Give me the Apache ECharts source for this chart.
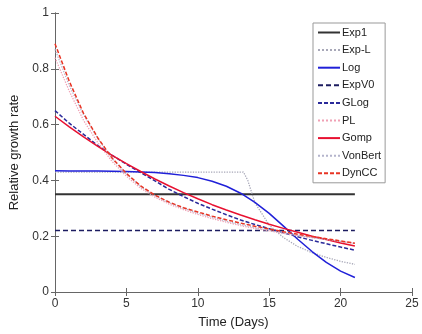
<!DOCTYPE html>
<html>
<head>
<meta charset="utf-8">
<script src="https://cdn.jsdelivr.net/npm/echarts@6/dist/echarts.min.js"></script>
<style>html,body{margin:0;padding:0;background:#fff}#c{width:422px;height:334px}</style>
</head>
<body>
<div id="c"></div>
<script>
// ---- data ----
const days = [0,1,2,3,4,5,6,7,8,9,10,11,12,13,14,15,16,17,18,19,20,21];
const flatDays = [0, 21];
const exp1 = [0.35, 0.35];
const expV0 = [0.22, 0.22];
const expLDays = [0, 13.2, 13.5, 14, 14.5, 15, 16, 17, 18, 19, 20, 21];
const expL = [0.43, 0.43, 0.40, 0.32, 0.28, 0.24, 0.195, 0.163, 0.141, 0.124, 0.110, 0.099];
const logV = [0.435,0.434,0.434,0.434,0.433,0.432,0.430,0.428,0.424,0.418,0.410,0.397,0.379,0.354,0.321,0.282,0.236,0.189,0.145,0.106,0.075,0.052];
const glog = [0.65,0.605,0.565,0.525,0.49,0.458,0.428,0.398,0.368,0.342,0.318,0.297,0.277,0.258,0.242,0.227,0.212,0.198,0.185,0.173,0.161,0.15];
const pl = [0.84,0.72,0.615,0.535,0.468,0.415,0.372,0.34,0.315,0.295,0.278,0.263,0.25,0.238,0.228,0.219,0.21,0.202,0.195,0.188,0.181,0.175];
const gomp = [0.63,0.592,0.556,0.522,0.49,0.46,0.432,0.405,0.38,0.356,0.334,0.313,0.294,0.276,0.259,0.243,0.228,0.214,0.2,0.188,0.176,0.165];
const vonBert = [0.87,0.74,0.635,0.55,0.478,0.423,0.378,0.345,0.32,0.3,0.283,0.268,0.254,0.242,0.231,0.221,0.212,0.203,0.195,0.188,0.181,0.174];
const dynCC = [0.89,0.755,0.64,0.552,0.48,0.425,0.38,0.347,0.322,0.302,0.287,0.272,0.259,0.247,0.236,0.226,0.216,0.207,0.199,0.191,0.183,0.175];
const xTicks = [0, 5, 10, 15, 20, 25];
const yTicks = [0, 0.2, 0.4, 0.6, 0.8, 1];

function pairs(xs, ys){ return xs.map((x,i)=>[x, ys[i]]); }

const seriesDefs = [
  {name:'Exp1', x:flatDays, y:exp1, color:'#333333', type:'solid', width:2},
  {name:'Exp-L', x:expLDays, y:expL, color:'#a8a8b8', type:'dotted', width:1.3},
  {name:'Log', x:days, y:logV, color:'#2020d8', type:'solid', width:1.5},
  {name:'ExpV0', x:flatDays, y:expV0, color:'#1c1c60', type:[5,3], width:1.5},
  {name:'GLog', x:days, y:glog, color:'#2a2a9a', type:[4,2], width:1.5},
  {name:'PL', x:days, y:pl, color:'#f0a0b4', type:'dotted', width:1.3},
  {name:'Gomp', x:days, y:gomp, color:'#e81030', type:'solid', width:1.5},
  {name:'VonBert', x:days, y:vonBert, color:'#b4b4cc', type:'dotted', width:1.3},
  {name:'DynCC', x:days, y:dynCC, color:'#e83424', type:[4,2], width:1.5}
];

const chart = echarts.init(document.getElementById('c'), null, {renderer:'canvas'});
const axisCommon = {
  axisLine:{show:true, lineStyle:{color:'#666', width:1}},
  axisTick:{show:true, inside:true, length:4, lineStyle:{color:'#666'}},
  splitLine:{show:false}
};
chart.setOption({
  animation:false,
  backgroundColor:'#fff',
  grid:{left:55, right:10, top:13, bottom:42},
  legend:{
    orient:'vertical', left:313, top:23,
    data: seriesDefs.map(s=>s.name),
    backgroundColor:'#fff', borderColor:'#999', borderWidth:1,
    padding:[4,4,4,4], itemWidth:22, itemHeight:10, itemGap:6.6,
    itemStyle:{opacity:0},
    textStyle:{fontFamily:'Liberation Sans, Arial', fontSize:11, color:'#222', padding:[0,0,0,-3]}
  },
  xAxis:[
    Object.assign({type:'value', min:0, max:25, interval:5, position:'bottom',
      name:'Time (Days)', nameLocation:'middle', nameGap:24,
      nameTextStyle:{fontFamily:'Liberation Sans, Arial', fontSize:13, color:'#222'},
      axisLabel:{fontFamily:'Liberation Sans, Arial', fontSize:12, color:'#333', margin:6,
        formatter:v=>xTicks.includes(v)?String(v):''}}, axisCommon),
    Object.assign({type:'value', min:0, max:25, interval:5, position:'top', axisLabel:{show:false}}, axisCommon)
  ],
  yAxis:[
    Object.assign({type:'value', min:0, max:1, interval:0.2, position:'left',
      name:'Relative growth rate', nameLocation:'middle', nameGap:30, nameRotate:90,
      nameTextStyle:{fontFamily:'Liberation Sans, Arial', fontSize:13, color:'#222'},
      axisLabel:{fontFamily:'Liberation Sans, Arial', fontSize:12, color:'#333', margin:6,
        formatter:v=>{const t=yTicks.find(k=>Math.abs(k-v)<1e-9); return t===undefined?'':String(t);}}}, axisCommon),
    Object.assign({type:'value', min:0, max:1, interval:0.2, position:'right', axisLabel:{show:false}}, axisCommon)
  ],
  series: seriesDefs.map(s=>({
    name:s.name, type:'line', data:pairs(s.x, s.y), symbol:'none', smooth:false,
    xAxisIndex:0, yAxisIndex:0,
    itemStyle:{color:s.color},
    lineStyle:{color:s.color, type:s.type, width:s.width}
  }))
});
</script>
</body>
</html>
